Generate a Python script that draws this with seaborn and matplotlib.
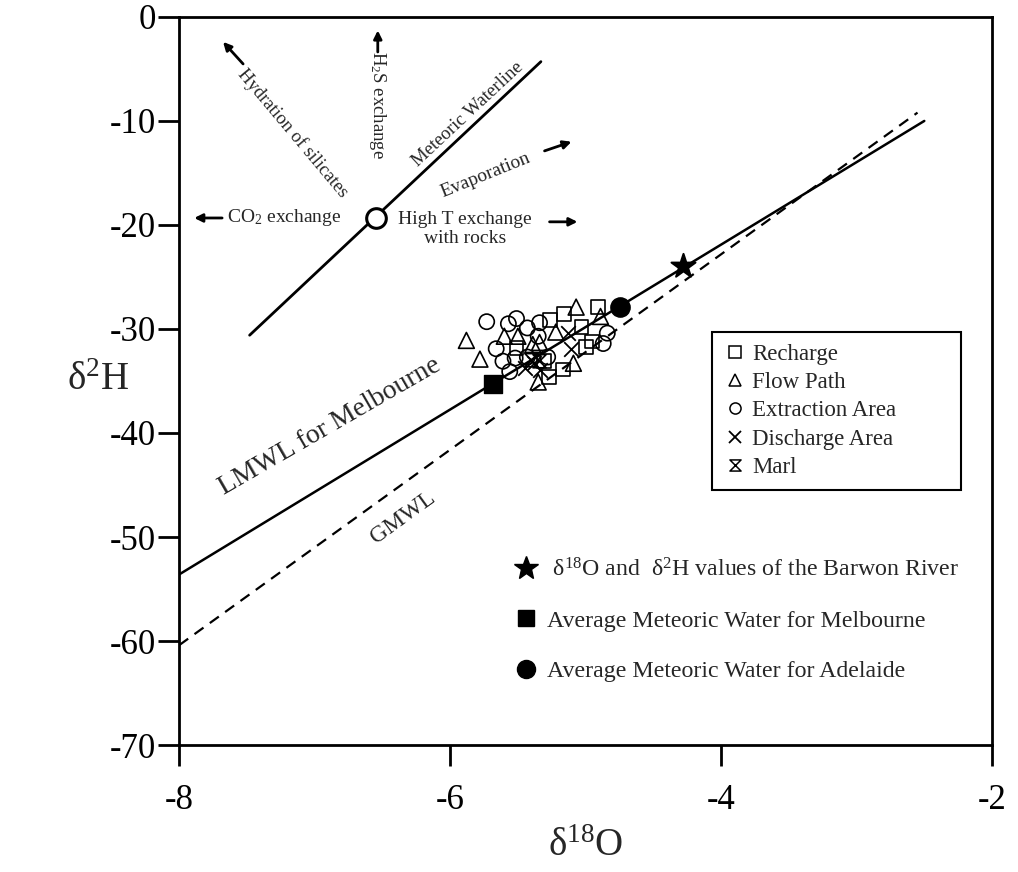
import numpy as np
import matplotlib
matplotlib.use("Agg")
import matplotlib.pyplot as plt
from matplotlib.lines import Line2D
from matplotlib.path import Path
import seaborn as sns

# sample groups (d18O, d2H)
recharge_x = [-5.51, -5.26, -5.16, -4.91, -5.03, -4.95, -5.00, -5.17, -5.27, -5.31]
recharge_y = [-31.8, -29.1, -28.6, -27.9, -29.8, -31.2, -31.7, -33.9, -34.6, -33.1]
flowpath_x = [-5.88, -5.78, -5.60, -5.50, -5.39, -5.22, -5.07, -4.89, -5.09, -5.35, -5.34]
flowpath_y = [-31.1, -32.9, -30.7, -30.7, -31.5, -30.3, -27.9, -28.8, -33.3, -35.1, -31.3]
extraction_x = [-5.73, -5.57, -5.51, -5.43, -5.34, -5.35, -5.66, -5.61, -5.52, -5.56, -5.43, -5.28, -4.84, -4.87]
extraction_y = [-29.3, -29.5, -29.0, -29.9, -29.4, -30.7, -31.9, -33.1, -32.8, -34.1, -32.7, -32.7, -30.4, -31.4]
discharge_x = [-5.13, -5.11, -5.38, -5.45, -5.34]
discharge_y = [-30.4, -31.9, -33.3, -33.8, -33.9]
marl_x = [-5.40, -5.34]
marl_y = [-33.0, -33.1]

# reference waters
barwon = (-4.28, -23.9)
melbourne = (-5.68, -35.3)
adelaide = (-4.745, -27.9)

# water lines
lmwl_x = [-8.0, -2.5]
lmwl_y = [-53.6, -10.0]
gmwl_x = [-8.0, -2.55]
gmwl_y = [-60.4, -9.2]
mwl_x = [-7.48, -5.33]
mwl_y = [-30.6, -4.3]
mwl_origin = (-6.548, -19.33)

sns.set_style("ticks")
plt.rcParams["font.family"] = ["Liberation Serif", "DejaVu Serif"]
plt.rcParams["mathtext.fontset"] = "custom"
plt.rcParams["mathtext.rm"] = "Liberation Serif"
plt.rcParams["mathtext.it"] = "Liberation Serif:italic"
plt.rcParams["axes.unicode_minus"] = False

hourglass = Path([(-1, 1), (1, 1), (-1, -1), (1, -1), (-1, 1)],
                 [Path.MOVETO, Path.LINETO, Path.LINETO, Path.LINETO, Path.CLOSEPOLY])

fig = plt.figure(figsize=(10.18, 8.72), dpi=100)
ax = fig.add_axes([0.176, 0.1456, 0.7985, 0.835])

sns.lineplot(x=lmwl_x, y=lmwl_y, color="black", lw=1.8, sort=False, estimator=None, ax=ax)
sns.lineplot(x=gmwl_x, y=gmwl_y, color="black", lw=1.6, linestyle=(0, (5, 3.5)),
             sort=False, estimator=None, ax=ax)
sns.lineplot(x=mwl_x, y=mwl_y, color="black", lw=2, sort=False, estimator=None, ax=ax)

groups = [
    (recharge_x, recharge_y, "s", 100),
    (flowpath_x, flowpath_y, "^", 130),
    (extraction_x, extraction_y, "o", 120),
    (marl_x, marl_y, hourglass, 90),
]
for gx, gy, m, s in groups:
    sns.scatterplot(x=gx, y=gy, marker=m, s=s, facecolor="none", edgecolor="black",
                    linewidth=1.2, ax=ax, zorder=3)
sns.scatterplot(x=discharge_x, y=discharge_y, marker="x", s=110, color="black",
                linewidth=1.3, ax=ax, zorder=3)

sns.scatterplot(x=[barwon[0]], y=[barwon[1]], marker="*", s=330, color="black",
                edgecolor="black", ax=ax, zorder=4)
sns.scatterplot(x=[melbourne[0]], y=[melbourne[1]], marker="s", s=150, color="black",
                edgecolor="black", ax=ax, zorder=4)
sns.scatterplot(x=[adelaide[0]], y=[adelaide[1]], marker="o", s=190, color="black",
                edgecolor="black", ax=ax, zorder=4)
sns.scatterplot(x=[mwl_origin[0]], y=[mwl_origin[1]], marker="o", s=200, facecolor="white",
                edgecolor="black", linewidth=2.2, ax=ax, zorder=4)

# process arrows around the meteoric waterline
arrow = dict(arrowstyle="-|>", lw=2, color="black", mutation_scale=12, shrinkA=0, shrinkB=0)
ax.annotate("", xy=(-7.676, -2.4), xytext=(-7.528, -4.52), arrowprops=arrow)
ax.annotate("", xy=(-6.534, -1.3), xytext=(-6.534, -3.37), arrowprops=arrow)
ax.annotate("", xy=(-7.889, -19.33), xytext=(-7.683, -19.33), arrowprops=arrow)
ax.annotate("", xy=(-5.06, -19.7), xytext=(-5.266, -19.7), arrowprops=arrow)
ax.annotate("", xy=(-5.104, -12.0), xytext=(-5.303, -12.88), arrowprops=arrow)

ax.text(-7.16, -11.15, "Hydration of silicates", rotation=-50, fontsize=13.5,
        ha="center", va="center", rotation_mode="anchor")
ax.text(-6.534, -8.5, "H$_2$S exchange", rotation=-90, fontsize=13.5,
        ha="center", va="center", rotation_mode="anchor")
ax.text(-5.87, -9.4, "Meteoric Waterline", rotation=43, fontsize=13.5,
        ha="center", va="center", rotation_mode="anchor")
ax.text(-7.646, -19.33, "CO$_2$ exchange", fontsize=14, ha="left", va="center")
ax.text(-5.892, -20.4, "High T exchange\nwith rocks", fontsize=14, ha="center",
        va="center", linespacing=1.15)
ax.text(-5.738, -15.2, "Evaporation", rotation=22, fontsize=14,
        ha="center", va="center", rotation_mode="anchor")

ax.text(-6.887, -39.4, "LMWL for Melbourne", rotation=30, fontsize=20,
        ha="center", va="center", rotation_mode="anchor")
ax.text(-6.349, -48.1, "GMWL", rotation=36, fontsize=17,
        ha="center", va="center", rotation_mode="anchor")

# sample legend
open_kw = dict(ls="", color="black", mfc="none", mec="black", ms=8, mew=1.1)
h1 = [
    Line2D([], [], marker="s", **open_kw),
    Line2D([], [], marker="^", **open_kw),
    Line2D([], [], marker="o", **open_kw),
    Line2D([], [], marker="x", ls="", color="black", ms=9, mew=1.3),
    Line2D([], [], marker=hourglass, **open_kw),
]
l1 = ax.legend(h1, ["Recharge", "Flow Path", "Extraction Area", "Discharge Area", "Marl"],
               loc="upper left", bbox_to_anchor=(0.656, 0.567, 0.306, 0.0), mode="expand",
               fontsize=16.5, frameon=True, fancybox=False, framealpha=1, edgecolor="black",
               handlelength=1.0, handletextpad=0.22, labelspacing=0.32, borderpad=0.5,
               borderaxespad=0)
l1.get_frame().set_linewidth(1.5)
ax.add_artist(l1)

h2 = [
    Line2D([], [], marker="*", ls="", color="black", ms=18),
    Line2D([], [], marker="s", ls="", color="black", ms=12),
    Line2D([], [], marker="o", ls="", color="black", ms=13),
]
ax.legend(h2, [" δ$^{18}$O and  δ$^{2}$H values of the Barwon River",
               "Average Meteoric Water for Melbourne",
               "Average Meteoric Water for Adelaide"],
          loc="upper left", bbox_to_anchor=(0.4, 0.27), frameon=False, fontsize=17.2,
          handlelength=1.0, handletextpad=0.4, labelspacing=1.2, borderaxespad=0)

ax.set_xlim(-8, -2)
ax.set_ylim(-70, 0)
ax.set_xticks([-8, -6, -4, -2])
ax.set_yticks(np.arange(-70, 1, 10))
ax.tick_params(axis="both", direction="out", length=15, width=2, labelsize=25,
               color="black", labelcolor="black")
ax.tick_params(axis="y", pad=2)
ax.tick_params(axis="x", pad=13)
for sp in ax.spines.values():
    sp.set_visible(True)
    sp.set_linewidth(2)
    sp.set_color("black")

ax.set_xlabel("δ$^{18}$O", fontsize=28, labelpad=8)
ax.set_ylabel("δ$^{2}$H", fontsize=28, rotation=0, ha="center", va="center")
ax.yaxis.set_label_coords(-0.1, 0.5)

fig.savefig("out.png", dpi=100)
